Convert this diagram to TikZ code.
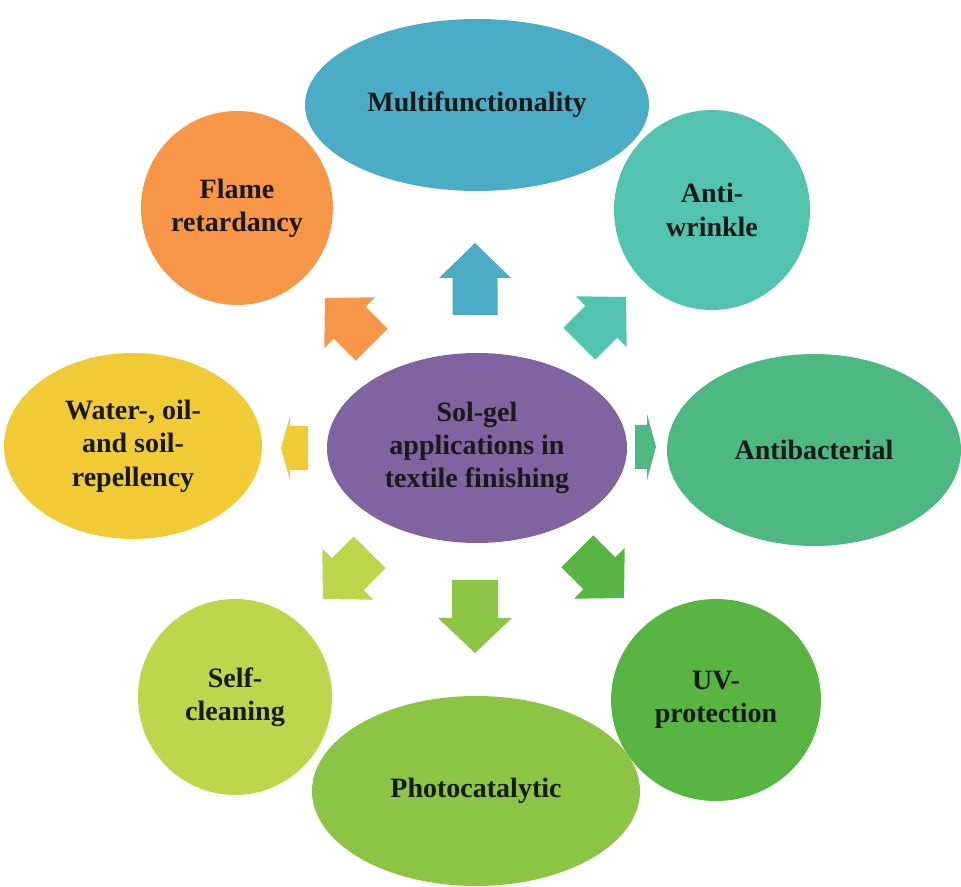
\documentclass[tikz,border=0pt]{standalone}
\usepackage{fontspec}
\setmainfont{Liberation Serif}
\usetikzlibrary{shapes.geometric}
\definecolor{cblue}{HTML}{4BACC6}
\definecolor{corange}{HTML}{F79646}
\definecolor{cteal}{HTML}{52C3AF}
\definecolor{cantib}{HTML}{4DB882}
\definecolor{cuv}{HTML}{58B541}
\definecolor{cphoto}{HTML}{8CC443}
\definecolor{cself}{HTML}{BDD64B}
\definecolor{cwater}{HTML}{F0CB35}
\definecolor{cpurple}{HTML}{8064A2}
\tikzset{
  blob/.style={ellipse, inner sep=0pt, align=center, font=\bfseries\fontsize{21}{25}\selectfont, text=black!90},
}
% #1 colour, #2 tip, #3 angle, #4 total length, #5 head length, #6 head half width, #7 shaft half width
\newcommand{\blockarrow}[7]{%
  \fill[#1, shift={#2}, rotate=#3] (0,0) -- (-#5,#6) -- (-#5,#7) -- (-#4,#7) -- (-#4,-#7) -- (-#5,-#7) -- (-#5,-#6) -- cycle;}
\begin{document}
\begin{tikzpicture}[x=0.75pt,y=0.75pt]
\useasboundingbox (0,0) rectangle (961,-887);
% outer shapes (sizes in pt = 0.75 * pixels)
\node[blob, fill=cblue, minimum width=258pt, minimum height=129pt] (multi) at (477,-105) {Multifunctionality};
\node[blob, fill=corange, minimum width=144pt, minimum height=145.5pt] (flame) at (237,-208) {Flame\\retardancy};
\node[blob, fill=cteal, minimum width=147pt, minimum height=150pt] (wrinkle) at (712,-210) {Anti-\\wrinkle};
\node[blob, fill=cwater, minimum width=193.5pt, minimum height=139.5pt] (water) at (133,-446) {Water-, oil-\\and soil-\\repellency};
\node[blob, fill=cpurple, minimum width=225pt, minimum height=142.5pt] (center) at (477,-448) {Sol-gel\\applications in\\textile finishing};
\node[blob, fill=cantib, minimum width=220.5pt, minimum height=144pt] (antib) at (814,-450) {Antibacterial};
\node[blob, fill=cself, minimum width=145.5pt, minimum height=147pt] (self) at (235,-697) {Self-\\cleaning};
\node[blob, fill=cuv, minimum width=157.5pt, minimum height=151.5pt] (uv) at (716,-700) {UV-\\protection};
\node[blob, fill=cphoto, minimum width=246pt, minimum height=142.5pt] (photo) at (476,-791) {Photocatalytic};
% block arrows
\blockarrow{cblue}{(475,-243)}{90}{72}{35}{36}{22.5}
\blockarrow{cphoto}{(475,-653)}{270}{73}{35}{37}{23}
\blockarrow{cwater}{(281,-448)}{180}{27}{9}{32}{22}
\blockarrow{cantib}{(656,-447)}{0}{21}{9}{33}{22}
\blockarrow{corange}{(325,-298)}{135}{66}{35}{36}{22.5}
\blockarrow{cteal}{(626,-297)}{45}{66}{35}{36}{22.5}
\blockarrow{cself}{(323,-599)}{225}{66}{35}{36}{22.5}
\blockarrow{cuv}{(624,-598)}{315}{66}{35}{36}{22.5}
\end{tikzpicture}
\end{document}
